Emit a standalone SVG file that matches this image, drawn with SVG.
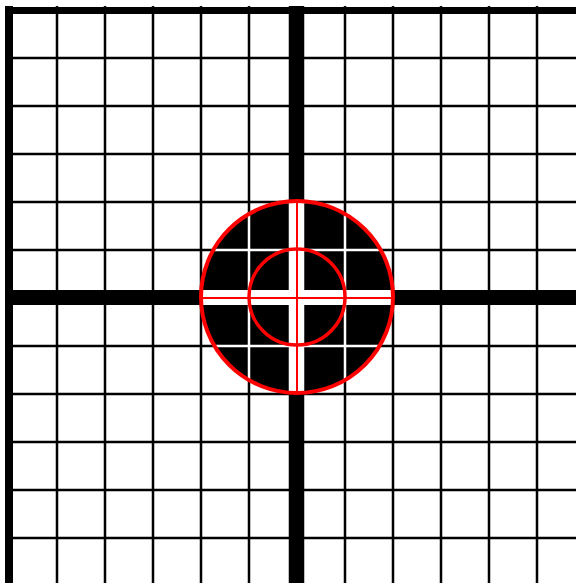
<svg xmlns="http://www.w3.org/2000/svg" width="576" height="583" viewBox="0 0 576 583">
<defs>
<style>
.thin{stroke-width:2.5;fill:none}
.red{stroke:#ff0000;fill:none}
</style>
<clipPath id="clip"><circle cx="297" cy="297" r="96"/></clipPath>
<g id="gridlines">
<path class="thin" d="M57 6V583M105 6V583M153 6V583M201 6V583M249 6V583M345 6V583M393 6V583M441 6V583M489 6V583M537 6V583"/>
<path class="thin" d="M5 58H576M5 106H576M5 154H576M5 202H576M5 250H576M5 346H576M5 394H576M5 442H576M5 490H576M5 538H576"/>
<path d="M9 6V583" stroke-width="8" fill="none"/>
<path d="M5 10.5H576" stroke-width="7" fill="none"/>
<path d="M296.5 6V583" stroke-width="15.5" fill="none"/>
<path d="M5 297.5H576" stroke-width="15" fill="none"/>
</g>
</defs>
<rect width="576" height="583" fill="#ffffff"/>
<g id="grid" stroke="#000000">
<use href="#gridlines"/>
</g>
<g id="target">
<g clip-path="url(#clip)">
<circle cx="297" cy="297" r="96" fill="#000000"/>
<g stroke="#ffffff"><use href="#gridlines"/></g>
</g>
<line class="red" x1="297" y1="201" x2="297" y2="393" stroke-width="2"/>
<line class="red" x1="201" y1="298" x2="393" y2="298" stroke-width="2"/>
<circle class="red" cx="297" cy="297" r="96" stroke-width="4"/>
<circle class="red" cx="297" cy="297" r="48" stroke-width="3.5"/>
</g>
</svg>
